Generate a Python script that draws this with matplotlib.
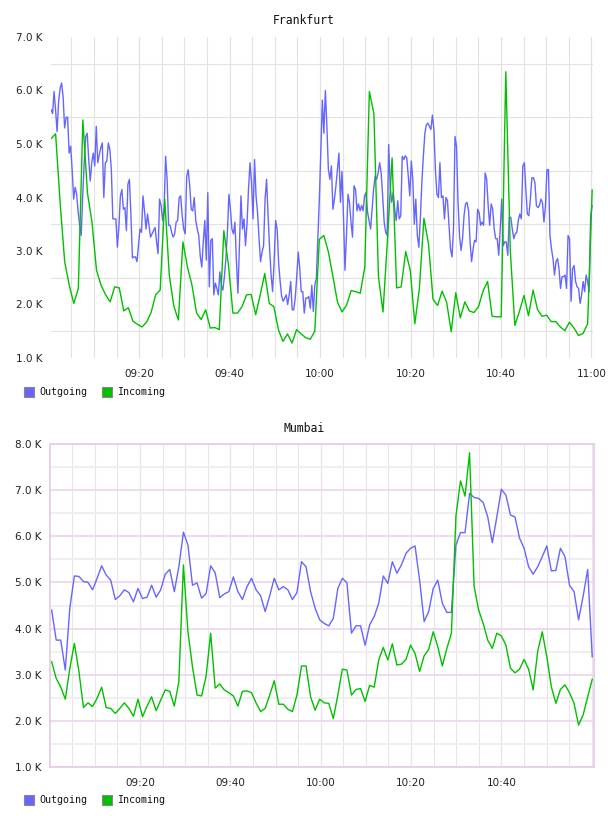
import numpy as np
import matplotlib
matplotlib.use("Agg")
import matplotlib.pyplot as plt
from matplotlib.patches import Rectangle

# Traffic in K, times are minutes after 09:00
frankfurt_out_start = 0.5      # first sample, minutes
frankfurt_out_step = 1 / 3     # 20 s samples
frankfurt_out = [
    5.64, 5.57, 5.98, 5.64, 5.23, 5.79, 6.04, 6.14, 5.88, 5.30,
    5.50, 5.50, 4.83, 4.96, 4.52, 3.97, 4.19, 4.06, 3.72, 3.48,
    3.29, 4.03, 4.65, 5.14, 5.20, 4.71, 4.31, 4.65, 4.83, 4.59,
    5.33, 4.65, 4.80, 4.93, 5.02, 4.00, 4.65, 4.68, 5.02, 4.90,
    4.52, 3.60, 3.60, 3.60, 3.07, 3.44, 4.03, 4.15, 3.78, 3.81,
    3.38, 4.25, 4.34, 3.66, 2.87, 2.89, 2.89, 2.80, 3.10, 3.41,
    3.35, 4.03, 3.75, 3.41, 3.69, 3.48, 3.26, 3.32, 3.38, 3.44,
    3.17, 2.95, 3.97, 3.85, 3.57, 3.78, 4.77, 4.34, 3.48, 3.48,
    3.35, 3.26, 3.32, 3.54, 3.57, 4.00, 4.03, 3.66, 3.41, 3.32,
    4.40,
    4.52, 4.22, 3.78, 3.75, 4.00, 3.57, 3.41, 3.29, 2.90, 2.70,
    3.17, 3.57, 2.83, 4.09, 2.33, 3.20, 3.23, 2.18, 2.40, 2.30,
    2.18, 2.61, 2.36, 2.27, 2.52, 2.86, 3.35, 4.06, 3.78, 3.41,
    3.32, 3.54, 2.80, 2.21, 3.10, 4.03, 3.41, 3.60, 3.10, 3.50,
    4.15, 4.65, 4.28, 3.60, 4.71, 4.03, 3.72, 3.23, 2.80, 2.98,
    3.10, 3.97, 4.34, 3.66, 3.04, 2.55, 2.24, 2.80, 3.57, 3.41,
    2.77, 2.43, 2.15, 2.06, 2.12, 2.18, 2.00, 2.18, 2.43, 1.90,
    1.90, 2.12, 2.52, 2.98, 2.67, 2.24, 2.24, 1.84, 2.12, 2.12,
    2.15, 1.93, 2.36, 1.87, 2.36, 2.49, 3.23, 3.97, 4.90, 5.82,
    5.20,
    6.00, 5.33, 4.52, 4.34, 4.59, 3.78, 3.97, 4.22, 4.52, 4.83,
    3.91, 4.49, 3.66, 2.64, 3.29, 4.06, 3.91, 3.54, 3.26, 4.22,
    4.15, 3.75, 3.88, 3.75, 3.85, 3.75, 4.03, 4.09, 3.72, 3.57,
    3.41, 3.78, 4.15, 4.40, 4.34, 4.46, 4.65, 4.46, 4.03, 3.54,
    3.35, 3.29, 4.99, 4.22, 3.91, 4.09, 3.78, 3.57, 3.94, 3.60,
    3.66, 4.77, 4.71, 4.78, 4.74, 4.40, 4.03, 4.68, 4.34, 3.50,
    3.97, 3.29, 3.07, 3.60, 4.28, 4.77, 5.20, 5.36, 5.39, 5.33,
    5.27, 5.54, 5.27, 4.52, 4.06, 4.00, 4.65, 4.00, 4.03, 3.60,
    4.00, 3.94, 3.48, 3.04, 2.89, 3.41, 5.14, 4.96, 3.91, 3.29,
    3.01, 3.23, 3.66, 3.88, 3.91, 3.75, 3.17, 2.80, 3.04, 3.20,
    3.17, 3.78, 3.72, 3.48, 3.54, 3.48, 4.46, 4.34, 3.85, 3.48,
    3.88, 3.78, 3.41, 3.23, 3.23, 2.92, 3.41, 3.97, 3.10, 3.17,
    3.17, 2.92, 3.63, 3.63, 3.41, 3.23, 3.32, 3.35, 3.57, 3.69,
    3.60, 4.59, 4.65, 4.15, 3.69, 3.66, 3.97, 4.37, 4.37, 4.28,
    3.85, 3.81, 3.85, 3.97, 3.91, 3.54, 3.85, 4.52, 4.52, 3.29,
    3.04, 2.86, 2.55, 2.80, 2.86, 2.67, 2.30, 2.52, 2.52, 2.55,
    2.30, 3.29, 3.23, 2.06, 2.67, 2.73, 2.43, 2.33, 2.30, 2.02,
    2.18, 2.43, 2.24, 2.55, 2.43, 2.24, 3.66, 3.85,
]

frankfurt_in_start = 0.5
frankfurt_in_step = 1.0056     # about one sample a minute
frankfurt_in = [
    5.10, 5.19, 3.90, 2.80, 2.36, 2.02, 2.30, 5.45, 4.09, 3.54,
    2.64, 2.36, 2.18, 2.05, 2.33, 2.31, 1.88, 1.94, 1.69, 1.63,
    1.58, 1.67, 1.85, 2.18, 2.27, 3.97, 2.55, 1.97, 1.71, 3.17,
    2.70, 2.36, 1.84, 1.72, 1.90, 1.56, 1.57, 1.53, 3.38, 2.75,
    1.84, 1.84, 1.96, 2.18, 2.19, 1.81, 2.18, 2.58, 2.02, 1.96,
    1.53, 1.31, 1.45, 1.28, 1.53, 1.45, 1.38, 1.35, 1.50, 3.22,
    3.29, 2.98, 2.52, 2.04, 1.86, 1.99, 2.26, 2.24, 2.21, 2.70,
    5.98, 5.57, 2.52, 1.86, 3.23, 4.74, 2.31, 2.33, 2.99, 2.64,
    1.64, 2.30, 3.61, 3.14, 2.10, 1.98, 2.25, 2.04, 1.49, 2.22,
    1.75, 2.05, 1.88, 1.85, 1.96, 2.25, 2.43, 1.78, 1.77, 1.77,
    6.35, 3.00, 1.61, 1.87, 2.17, 1.79, 2.27, 1.90, 1.78, 1.80,
    1.68, 1.68, 1.58, 1.51, 1.67, 1.56, 1.42, 1.46, 1.64, 4.14,
]

mumbai_start = 0.44
mumbai_step = 1.0056
mumbai_out = [
    4.40, 3.75, 3.75, 3.10, 4.45, 5.14, 5.13, 5.02, 5.00, 4.84,
    5.09, 5.36, 5.16, 5.05, 4.63, 4.71, 4.84, 4.78, 4.58, 4.87,
    4.65, 4.68, 4.94, 4.68, 4.84, 5.18, 5.28, 4.80, 5.34, 6.09,
    5.81, 4.94, 4.99, 4.66, 4.76, 5.36, 5.21, 4.67, 4.75, 4.80,
    5.12, 4.80, 4.63, 4.91, 5.09, 4.84, 4.71, 4.37, 4.71, 5.09,
    4.84, 4.91, 4.84, 4.63, 4.78, 5.45, 5.34, 4.80, 4.44, 4.19,
    4.11, 4.06, 4.22, 4.87, 5.09, 4.99, 3.90, 4.06, 4.06, 3.64,
    4.08, 4.26, 4.55, 5.14, 4.98, 5.45, 5.20, 5.38, 5.63, 5.74,
    5.79, 5.05, 4.15, 4.37, 4.87, 5.05, 4.55, 4.35, 4.35, 5.81,
    6.08, 6.08, 6.93, 6.84, 6.82, 6.73, 6.42, 5.86, 6.42, 7.02,
    6.89, 6.46, 6.42, 5.96, 5.74, 5.34, 5.18, 5.34, 5.56, 5.79,
    5.25, 5.26, 5.74, 5.56, 4.94, 4.80, 4.19, 4.70, 5.28, 3.39,
]
mumbai_in = [
    3.28, 2.92, 2.73, 2.47, 3.14, 3.68, 3.07, 2.29, 2.39, 2.31,
    2.49, 2.73, 2.29, 2.27, 2.16, 2.27, 2.39, 2.27, 2.10, 2.47,
    2.09, 2.32, 2.52, 2.22, 2.45, 2.67, 2.64, 2.32, 2.85, 5.38,
    3.93, 3.17, 2.56, 2.54, 2.97, 3.90, 2.71, 2.80, 2.67, 2.61,
    2.54, 2.32, 2.64, 2.65, 2.61, 2.39, 2.20, 2.27, 2.56, 2.87,
    2.36, 2.36, 2.25, 2.20, 2.56, 3.19, 3.19, 2.52, 2.23, 2.47,
    2.39, 2.38, 2.05, 2.56, 3.12, 3.10, 2.56, 2.68, 2.70, 2.42,
    2.77, 2.73, 3.32, 3.59, 3.32, 3.67, 3.21, 3.23, 3.33, 3.64,
    3.46, 3.07, 3.41, 3.55, 3.93, 3.61, 3.19, 3.57, 3.90, 6.44,
    7.20, 6.87, 7.81, 4.91, 4.40, 4.11, 3.75, 3.57, 3.90, 3.84,
    3.64, 3.14, 3.04, 3.12, 3.33, 3.12, 2.67, 3.51, 3.93, 3.39,
    2.74, 2.38, 2.68, 2.78, 2.61, 2.38, 1.91, 2.13, 2.52, 2.90,
]

time_ticks = [20, 40, 60, 80, 100, 120]
time_labels = ["09:20", "09:40", "10:00", "10:20", "10:40", "11:00"]

BLUE = "#6666ff"
GREEN = "#00c000"
W, H = 608, 816


def fig_box(x0, y0, x1, y1):
    # pixel box (top-left origin) -> figure fraction rect
    return [x0 / W, 1 - y1 / H, (x1 - x0) / W, (y1 - y0) / H]


def times(start, step, n):
    return start + step * np.arange(n)


def style_axis(ax, ymax, xlabels):
    ax.set_ylim(1, ymax)
    ax.set_yticks(range(1, ymax + 1))
    ax.set_yticklabels([f"{v:.1f} K" for v in range(1, ymax + 1)])
    ax.set_yticks(np.arange(1.5, ymax, 1.0), minor=True)
    ax.set_xticks(time_ticks[:len(xlabels)])
    ax.set_xticklabels(xlabels)
    ax.set_xticks(np.arange(5, 121, 5), minor=True)
    ax.xaxis.remove_overlapping_locs = False
    ax.tick_params(which="both", length=0)
    ax.tick_params(axis="y", pad=6, labelsize=7.5, labelcolor="#222222")
    ax.tick_params(axis="x", pad=8, labelsize=7.5, labelcolor="#222222")
    ax.set_axisbelow(True)


def legend(y):
    for x, col, name in [(24, BLUE, "Outgoing"), (102, GREEN, "Incoming")]:
        r = Rectangle((x / W, 1 - (y + 5) / H), 10 / W, 10 / H,
                      transform=fig.transFigure, facecolor=col,
                      edgecolor="#888888", lw=0.8)
        fig.add_artist(r)
        fig.text((x + 15) / W, 1 - y / H, name, ha="left", va="center",
                 family="DejaVu Sans Mono", size=7.2, color="#111111")


fig = plt.figure(figsize=(W / 100, H / 100), dpi=100)

# Frankfurt
ax1 = fig.add_axes(fig_box(51, 37, 593, 358))
ax1.plot(times(frankfurt_out_start, frankfurt_out_step, len(frankfurt_out)),
         frankfurt_out, color=BLUE, lw=1.0)
ax1.plot(times(frankfurt_in_start, frankfurt_in_step, len(frankfurt_in)),
         frankfurt_in, color=GREEN, lw=1.0)
ax1.set_xlim(0.49, 120.35)
style_axis(ax1, 7, time_labels)
for s in ax1.spines.values():
    s.set_visible(False)
ax1.grid(axis="x", which="both", color="#e2e2e2", lw=0.8)
ax1.grid(axis="y", which="minor", color="#e2e2e2", lw=0.8)
fig.text(0.5, 1 - 20 / H, "Frankfurt", ha="center", va="center",
         family="DejaVu Sans Mono", size=8.3, color="#111111")
legend(392)

# Mumbai
ax2 = fig.add_axes(fig_box(50, 444, 594, 767))
ax2.plot(times(mumbai_start, mumbai_step, len(mumbai_out)),
         mumbai_out, color=BLUE, lw=1.0)
ax2.plot(times(mumbai_start, mumbai_step, len(mumbai_in)),
         mumbai_in, color=GREEN, lw=1.0)
ax2.set_xlim(0.07, 120.5)
style_axis(ax2, 8, time_labels[:5])
for s in ax2.spines.values():
    s.set_color("#e4cce4")
    s.set_linewidth(1.2)
ax2.grid(axis="x", which="major", color="#d8c0d8", lw=0.8)
ax2.grid(axis="x", which="minor", color="#ebe3eb", lw=0.8)
ax2.grid(axis="y", which="major", color="#eedcee", lw=1.4)
ax2.grid(axis="y", which="minor", color="#f1eef1", lw=1.4)
fig.text(0.5, 1 - 429 / H, "Mumbai", ha="center", va="center",
         family="DejaVu Sans Mono", size=8.3, color="#111111")
legend(800)

fig.savefig("out.png", dpi=100)
